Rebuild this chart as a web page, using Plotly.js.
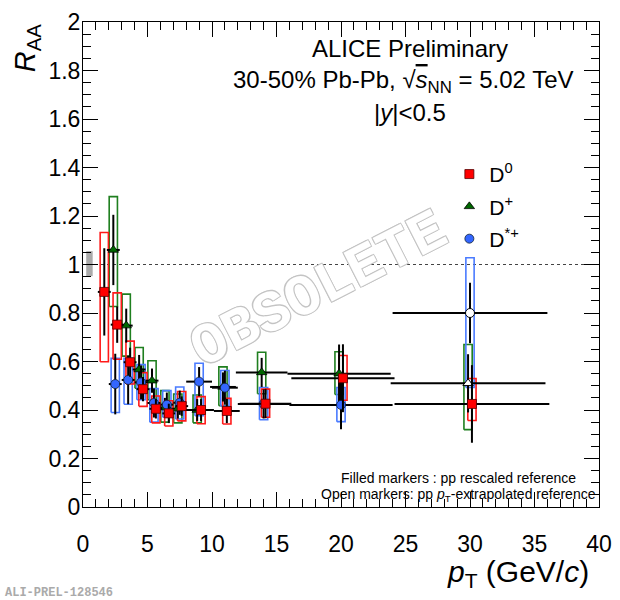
<!DOCTYPE html>
<html>
<head>
<meta charset="utf-8">
<script src="https://cdn.plot.ly/plotly-3.0.1.min.js"></script>
<style>
  html, body { margin: 0; padding: 0; background: #fff; }
  #myDiv { width: 620px; height: 600px; }
</style>
</head>
<body>
<div id="myDiv"></div>
<script>
// pT bin edges (GeV/c)
var d0Lo = [1, 2, 3, 4, 5, 6, 7, 8, 10, 12, 16, 24];
var d0Hi = [2, 3, 4, 5, 6, 7, 8, 10, 12, 16, 24, 36];
var dLo = [2, 3, 4, 5, 6, 7, 8, 10, 12, 16];
var dHi = [3, 4, 5, 6, 7, 8, 10, 12, 16, 24];
var openLo = [24];
var openHi = [36];

// D0, filled markers
var d0Val = [0.887, 0.752, 0.597, 0.486, 0.405, 0.386, 0.416, 0.400, 0.396, 0.426, 0.531, 0.425];
var d0Stat = [0.18, 0.075, 0.06, 0.05, 0.04, 0.04, 0.04, 0.045, 0.05, 0.06, 0.14, 0.16];
var d0SysLo = [0.599, 0.609, 0.507, 0.415, 0.347, 0.334, 0.355, 0.343, 0.342, 0.370, 0.440, 0.357];
var d0SysHi = [1.132, 0.883, 0.684, 0.554, 0.458, 0.438, 0.476, 0.455, 0.448, 0.486, 0.625, 0.530];

// D+, filled markers and the open (pT-extrapolated) one
var dpVal = [1.060, 0.748, 0.567, 0.521, 0.410, 0.405, 0.400, 0.495, 0.555, 0.550];
var dpStat = [0.145, 0.07, 0.06, 0.05, 0.04, 0.04, 0.045, 0.06, 0.06, 0.12];
var dpSysLo = [0.827, 0.622, 0.490, 0.442, 0.350, 0.347, 0.347, 0.418, 0.467, 0.464];
var dpSysHi = [1.280, 0.878, 0.658, 0.603, 0.480, 0.466, 0.462, 0.578, 0.638, 0.640];
var dpOpenVal = [0.510];
var dpOpenStat = [0.12];
var dpOpenSysLo = [0.319];
var dpOpenSysHi = [0.670];

// D*+, filled markers and the open one
var dsVal = [0.507, 0.524, 0.514, 0.429, 0.422, 0.430, 0.517, 0.492, 0.425, 0.421];
var dsStat = [0.125, 0.10, 0.07, 0.06, 0.05, 0.05, 0.06, 0.07, 0.06, 0.10];
var dsSysLo = [0.390, 0.424, 0.442, 0.350, 0.370, 0.363, 0.376, 0.416, 0.360, 0.352];
var dsSysHi = [0.613, 0.613, 0.587, 0.488, 0.480, 0.495, 0.593, 0.563, 0.493, 0.493];
var dsOpenVal = [0.800];
var dsOpenStat = [0.125];
var dsOpenSysLo = [0.493];
var dsOpenSysHi = [1.028];

// normalisation uncertainty at R_AA = 1
var normLo = 0.952;
var normHi = 1.055;

var boxHalf = 0.32;
var red = '#ff0000', green = '#006600', blue = '#3366ff';
var redBox = '#ff1a1a', greenBox = '#1f7f1f', blueBox = '#4a7bff';

function centres(lo, hi, shift) {
    return lo.map(function (l, i) { return (l + hi[i]) / 2 + shift; });
}
function halfWidths(lo, hi) {
    return lo.map(function (l, i) { return (hi[i] - l) / 2; });
}

// systematic boxes as one line trace per species
function boxes(xs, lo, hi, color) {
    var bx = [], by = [];
    xs.forEach(function (x, i) {
        bx.push(x - boxHalf, x + boxHalf, x + boxHalf, x - boxHalf, x - boxHalf, null);
        by.push(lo[i], lo[i], hi[i], hi[i], lo[i], null);
    });
    return {
        x: bx, y: by, type: 'scatter', mode: 'lines',
        line: {color: color, width: 1.6},
        hoverinfo: 'skip', showlegend: false
    };
}

function points(xs, ys, stat, ex, marker, name, rank) {
    return {
        x: xs, y: ys, type: 'scatter', mode: 'markers',
        name: name, legendrank: rank, legendgroup: name || undefined,
        showlegend: !!name,
        marker: marker,
        error_y: {type: 'data', array: stat, color: '#000', thickness: 2, width: 0},
        error_x: {type: 'data', array: ex, color: '#000', thickness: 2, width: 0}
    };
}

var d0X = centres(d0Lo, d0Hi, 0.15);
var dpX = centres(dLo, dHi, -0.15);
var dsX = centres(dLo, dHi, 0);
var dpOpenX = centres(openLo, openHi, -0.15);
var dsOpenX = centres(openLo, openHi, 0);

var data = [
    boxes(dpX, dpSysLo, dpSysHi, greenBox),
    boxes(dpOpenX, dpOpenSysLo, dpOpenSysHi, greenBox),
    boxes(dsX, dsSysLo, dsSysHi, blueBox),
    boxes(dsOpenX, dsOpenSysLo, dsOpenSysHi, blueBox),
    boxes(d0X, d0SysLo, d0SysHi, redBox),
    points(dpOpenX, dpOpenVal, dpOpenStat, halfWidths(openLo, openHi),
        {symbol: 'triangle-up', size: 9, color: '#fff', line: {color: '#000', width: 1}}, null, 10),
    points(dpX, dpVal, dpStat, halfWidths(dLo, dHi),
        {symbol: 'triangle-up', size: 9, color: green, line: {color: '#000', width: 0.8}}, 'D<sup>+</sup>', 2),
    points(dsX, dsVal, dsStat, halfWidths(dLo, dHi),
        {symbol: 'circle', size: 9, color: blue, line: {color: '#123', width: 0.8}}, 'D<sup>*+</sup>', 3),
    points(dsOpenX, dsOpenVal, dsOpenStat, halfWidths(openLo, openHi),
        {symbol: 'circle', size: 9, color: '#fff', line: {color: '#000', width: 1}}, null, 11),
    points(d0X, d0Val, d0Stat, halfWidths(d0Lo, d0Hi),
        {symbol: 'square', size: 9, color: red, line: {color: '#500', width: 0.8}}, 'D<sup>0</sup>', 1)
];

var tickFont = {family: 'Liberation Sans, Arial, sans-serif', size: 23, color: '#000'};
var txt = function (size) { return {family: 'Liberation Sans, Arial, sans-serif', size: size, color: '#000'}; };

// paper-anchored text, always centred on its point unless told otherwise
function note(x, y, text, font, extra) {
    var a = {xref: 'paper', yref: 'paper', x: x, y: y, text: text, showarrow: false,
        xanchor: 'center', yanchor: 'middle', font: font};
    for (var k in extra) a[k] = extra[k];
    return a;
}

var layout = {
    width: 620,
    height: 600,
    margin: {l: 83, r: 21, t: 22, b: 93},
    paper_bgcolor: '#fff',
    plot_bgcolor: '#fff',
    showlegend: true,
    legend: {
        x: 0.71, y: 0.728, xanchor: 'left', yanchor: 'top',
        font: txt(21), bgcolor: 'rgba(0,0,0,0)',
        tracegroupgap: 2, itemwidth: 30
    },
    xaxis: {
        range: [0, 40], tick0: 0, dtick: 5,
        ticks: 'inside', ticklen: 15, tickwidth: 1, tickcolor: '#000',
        minor: {dtick: 1, ticks: 'inside', ticklen: 8, tickwidth: 1, tickcolor: '#000', showgrid: false},
        showline: true, linecolor: '#000', linewidth: 1, mirror: 'allticks',
        showgrid: false, zeroline: false, tickfont: tickFont, ticklabelstandoff: 16
    },
    yaxis: {
        range: [0, 2], tick0: 0, dtick: 0.2,
        ticks: 'inside', ticklen: 15, tickwidth: 1, tickcolor: '#000',
        minor: {dtick: 0.05, ticks: 'inside', ticklen: 8, tickwidth: 1, tickcolor: '#000', showgrid: false},
        showline: true, linecolor: '#000', linewidth: 1, mirror: 'allticks',
        showgrid: false, zeroline: false, tickfont: tickFont, ticklabelstandoff: -3
    },
    shapes: [
        {type: 'line', xref: 'x', yref: 'y', x0: 0, x1: 40, y0: 1, y1: 1, layer: 'below',
            line: {color: '#444', width: 1.2, dash: '3px,3px'}},
        {type: 'rect', xref: 'x', yref: 'y', x0: 0.25, x1: 0.75, y0: normLo, y1: normHi, layer: 'below',
            fillcolor: '#aaaaaa', line: {width: 0}}
    ],
    annotations: [
        note(0.458, 0.447, 'OBSOLETE',
            {family: 'Liberation Mono, Courier New, monospace', size: 58, color: '#fff', weight: 'bold',
                shadow: '1px 1px 0 #c4c4c4, -1px -1px 0 #c4c4c4, 1px -1px 0 #c4c4c4, -1px 1px 0 #c4c4c4'},
            {textangle: -27}),
        note(0.634, 0.946, 'ALICE Preliminary', txt(24)),
        note(0.622, 0.878,
            '30-50% Pb-Pb, \u221A<span style="text-decoration:overline"><i>s</i></span><sub>NN</sub> = 5.02 TeV',
            txt(24)),
        note(0.634, 0.814, '|<i>y</i>|&lt;0.5', txt(24)),
        note(0.727, 0.06, 'Filled markers : pp rescaled reference', txt(14)),
        note(0.727, 0.024, 'Open markers: pp <i>p</i><sub>T</sub>-extrapolated reference', txt(14)),
        note(-0.108, 1.0, '<i>R</i><sub>AA</sub>', txt(29), {yanchor: 'top', textangle: -90}),
        note(0.985, -0.137, '<i>p</i><sub>T</sub> (GeV/<i>c</i>)', txt(30), {xanchor: 'right'}),
        note(-0.155, -0.177, 'ALI-PREL-128546',
            {family: 'Liberation Mono, Courier New, monospace', size: 12, color: '#aaa', weight: 'bold'},
            {xanchor: 'left'})
    ]
};

var config = {displayModeBar: false, responsive: false, staticPlot: true};

Plotly.newPlot('myDiv', data, layout, config);
</script>
</body>
</html>
